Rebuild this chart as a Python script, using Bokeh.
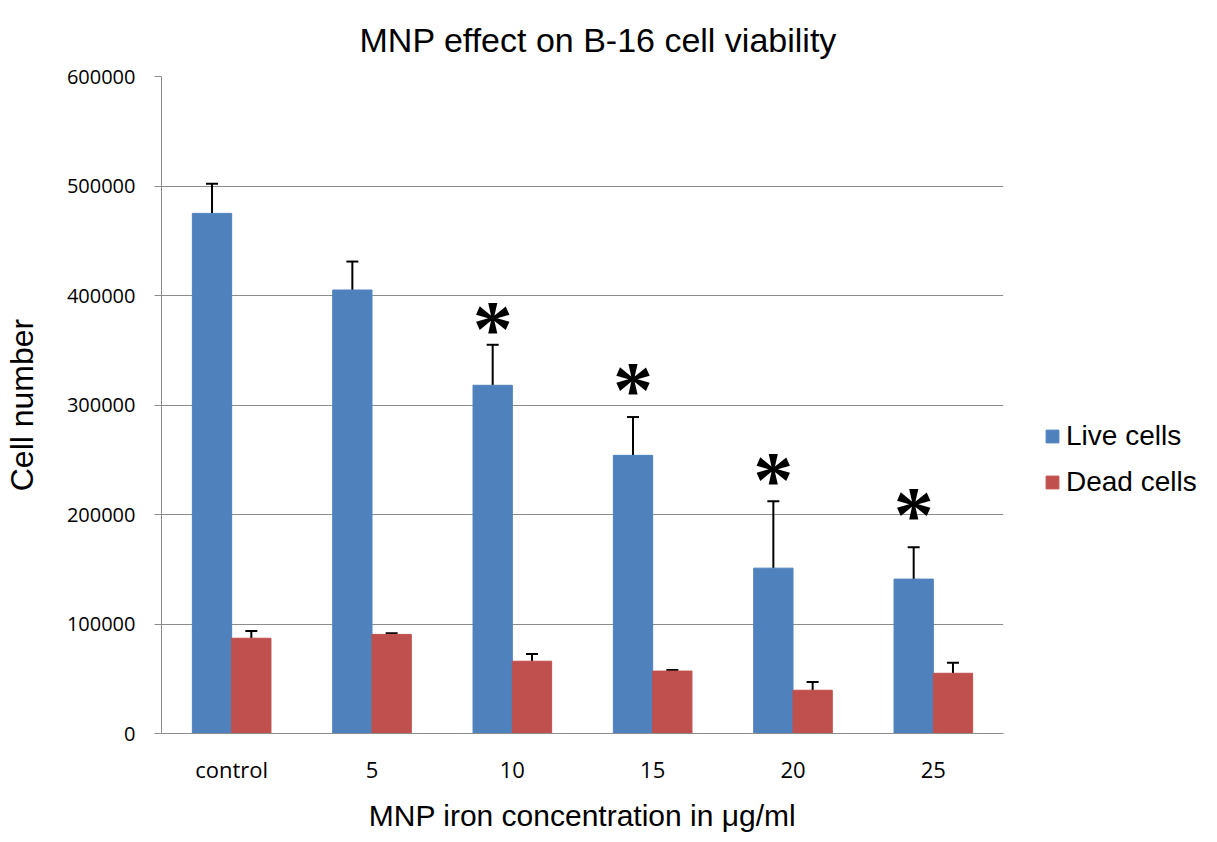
from bokeh.plotting import figure
from bokeh.models import (ColumnDataSource, Range1d, FactorRange, Whisker, TeeHead,
                          Legend, LegendItem, NumeralTickFormatter, FixedTicker)
from bokeh.transform import dodge
from bokeh.core.properties import value
from bokeh.embed import file_html
from bokeh.resources import INLINE

# ---- data ----
categories = ["control", "5", "10", "15", "20", "25"]
live_cells = [475000, 405000, 318000, 254000, 151000, 141000]
live_err_top = [502000, 431000, 355000, 289000, 212000, 170000]
dead_cells = [87000, 90500, 66000, 57000, 39500, 55000]
dead_err_top = [93500, 91500, 72500, 58000, 47000, 64500]
sig_categories = ["10", "15", "20", "25"]
sig_marker_y = [378000, 322000, 240000, 208000]
y_ticks = [0, 100000, 200000, 300000, 400000, 500000, 600000]

LIVE_COLOR = "#4F81BD"
DEAD_COLOR = "#C0504D"
GRID = "#8C8C8C"
SANS = "Liberation Sans"
TICKF = "Open Sans"

src = ColumnDataSource(dict(cat=categories, live=live_cells, live_hi=live_err_top,
                            dead=dead_cells, dead_hi=dead_err_top))
sig_src = ColumnDataSource(dict(cat=sig_categories, y=sig_marker_y,
                                star=["*"] * len(sig_categories)))

p = figure(x_range=FactorRange(*categories), y_range=Range1d(0, 600000),
           frame_width=842, frame_height=657, output_backend="svg", toolbar_location=None,
           min_border_left=155, min_border_right=203, min_border_top=0,
           min_border_bottom=0)

p.title.text = "MNP effect on B-16 cell viability"
p.title.text_font = SANS
p.title.text_font_size = "34px"
p.title.text_font_style = "normal"
p.title.align = "left"
p.title.offset = 198
p.title.standoff = 36
p.title.text_color = "black"

off = 0.14
w = 0.28
r_live = p.vbar(x=dodge("cat", -off, range=p.x_range), top="live", width=w, source=src,
                fill_color=LIVE_COLOR, line_color=LIVE_COLOR)
r_dead = p.vbar(x=dodge("cat", off, range=p.x_range), top="dead", width=w, source=src,
                fill_color=DEAD_COLOR, line_color=DEAD_COLOR)

for xoff, lo, hi in [(-off, "live", "live_hi"), (off, "dead", "dead_hi")]:
    wk = Whisker(source=src, base=dodge("cat", xoff, range=p.x_range), lower=lo, upper=hi,
                 line_color="black", line_width=2,
                 upper_head=TeeHead(size=12, line_color="black", line_width=2),
                 lower_head=None)
    p.add_layout(wk)

p.text(x=dodge("cat", -off, range=p.x_range), y="y", text="star", source=sig_src,
       text_font=value("Liberation Serif"), text_font_size="80px", text_font_style="bold",
       text_align="center", text_baseline="middle", text_color="black", y_offset=9)

# axes
p.yaxis.ticker = FixedTicker(ticks=y_ticks)
p.yaxis.formatter = NumeralTickFormatter(format="0")
p.yaxis.major_label_text_font = TICKF
p.yaxis.major_label_text_font_size = "20px"
p.yaxis.major_label_text_color = "black"
p.yaxis.major_tick_out = 7
p.yaxis.major_tick_in = 0
p.yaxis.minor_tick_out = 0
p.yaxis.minor_tick_in = 0
p.yaxis.major_label_standoff = 19
p.yaxis.axis_line_color = GRID
p.yaxis.major_tick_line_color = GRID
p.yaxis.axis_label = "Cell number"
p.yaxis.axis_label_text_font = SANS
p.yaxis.axis_label_text_font_size = "32px"
p.yaxis.axis_label_text_font_style = "normal"
p.yaxis.axis_label_text_color = "black"
p.yaxis.axis_label_standoff = 24

p.xaxis.major_label_text_font = TICKF
p.xaxis.major_label_text_font_size = "22px"
p.xaxis.major_label_text_color = "black"
p.xaxis.major_tick_out = 0
p.xaxis.major_tick_in = 0
p.xaxis.major_label_standoff = 20
p.xaxis.axis_line_color = GRID
p.xaxis.axis_label = "MNP iron concentration in μg/ml"
p.xaxis.axis_label_text_font = SANS
p.xaxis.axis_label_text_font_size = "30px"
p.xaxis.axis_label_text_font_style = "normal"
p.xaxis.axis_label_text_color = "black"
p.xaxis.axis_label_standoff = 12

p.xgrid.grid_line_color = None
p.ygrid.grid_line_color = GRID
p.ygrid.grid_line_width = 1
p.outline_line_color = None

legend = Legend(items=[LegendItem(label="Live cells", renderers=[r_live]),
                       LegendItem(label="Dead cells", renderers=[r_dead])],
                location=(41, 235), padding=0, margin=0, spacing=14,
                glyph_width=16, glyph_height=16, label_standoff=6,
                label_text_font=SANS, label_text_font_size="28px",
                label_text_color="black", border_line_color=None,
                background_fill_alpha=0)
p.add_layout(legend, "right")

open("out.html", "w").write(file_html(p, INLINE))
